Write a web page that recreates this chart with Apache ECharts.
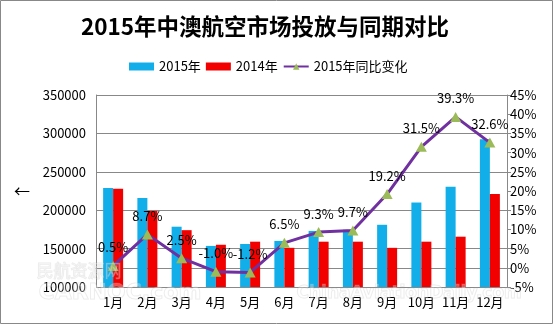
<!DOCTYPE html>
<html><head><meta charset="utf-8">
<script src="https://cdn.jsdelivr.net/npm/echarts@6/dist/echarts.min.js"></script>
<style>html,body{margin:0;padding:0;background:#fff}#c{width:553px;height:324px}</style>
</head><body><div id="c"></div>
<script>
const months = ['1月','2月','3月','4月','5月','6月','7月','8月','9月','10月','11月','12月'];
const y2015 = [229000,216000,178500,153500,156000,160000,173000,174500,181000,210000,230500,292500];
const y2014 = [228000,199000,174000,155000,159000,151000,159000,159000,151000,159000,165500,221000];
const yoy = [0.5,8.7,2.5,-1.0,-1.2,6.5,9.3,9.7,19.2,31.5,39.3,32.6];
const leftTicks = {min:100000,max:350000,interval:50000};
const rightTicks = {min:-5,max:45,interval:5};

const F = '"Noto Sans CJK SC","Noto Sans",sans-serif';
const chart = echarts.init(document.getElementById('c'), null, {renderer:'canvas'});
chart.setOption({
  animation:false,
  backgroundColor:'#fff',
  textStyle:{fontFamily:F},
  title:{text:'2015年中澳航空市场投放与同期对比',left:76,top:10,
    textStyle:{fontFamily:F,fontSize:22.5,fontWeight:'bold',color:'#000'}},
  legend:{top:55,left:124,itemWidth:25,itemHeight:8,itemGap:5,
    textStyle:{fontFamily:F,fontSize:13,color:'#000'},
    data:[{name:'2015年',icon:'rect'},{name:'2014年',icon:'rect'},{name:'2015年同比变化'}]},
  grid:{left:96,right:46,top:95,bottom:37},
  xAxis:{type:'category',data:months,
    axisLine:{show:true,lineStyle:{color:'#888',width:1}},
    axisTick:{show:false},
    axisLabel:{interval:0,fontFamily:F,fontSize:13,color:'#000',margin:9}},
  yAxis:[{type:'value',min:leftTicks.min,max:leftTicks.max,interval:leftTicks.interval,
      name:'←',nameLocation:'middle',nameRotate:0,nameGap:66,
      nameTextStyle:{fontFamily:F,fontSize:16,color:'#000'},
      axisLine:{show:true,lineStyle:{color:'#888'}},axisTick:{show:false},
      splitLine:{lineStyle:{color:'#888',width:1}},
      axisLabel:{fontFamily:F,fontSize:13,color:'#000',margin:10,formatter:v=>String(v)}},
    {type:'value',min:rightTicks.min,max:rightTicks.max,interval:rightTicks.interval,position:'right',
      axisLine:{show:true,lineStyle:{color:'#888'}},
      axisTick:{show:true,length:4,lineStyle:{color:'#888'}},
      splitLine:{show:false},
      axisLabel:{fontFamily:F,fontSize:13,color:'#000',margin:3,formatter:'{value}%'}}],
  series:[
    {name:'2015年',type:'bar',data:y2015,barWidth:10,barGap:'0%',itemStyle:{color:'#11AEEA'}},
    {name:'2014年',type:'bar',data:y2014,barWidth:10,barGap:'0%',itemStyle:{color:'#F20000'}},
    {name:'2015年同比变化',type:'line',yAxisIndex:1,data:yoy,
      symbol:'triangle',symbolSize:[11,10],
      lineStyle:{color:'#7030A0',width:3},
      itemStyle:{color:'#9BBB59',borderWidth:0},
      label:{show:true,position:'top',distance:7,fontFamily:F,fontSize:13,color:'#000',
        formatter:p=>p.value.toFixed(1)+'%'}}
  ],
  graphic:[
    {type:'rect',shape:{x:0.5,y:0.5,width:552,height:323},style:{fill:null,stroke:'#888',lineWidth:1},silent:true},
    {type:'text',left:36,top:262,z:100,style:{text:'民航资源网',fontFamily:F,fontSize:17,fill:'rgba(255,255,255,0.3)',stroke:'rgba(170,170,170,0.25)',lineWidth:1}},
    {type:'text',left:38,top:282,z:100,style:{text:'CARNOC.com',fontFamily:'"DejaVu Sans",sans-serif',fontWeight:'bold',fontSize:22,fill:'rgba(255,255,255,0.3)',stroke:'rgba(170,170,170,0.25)',lineWidth:1}},
    {type:'text',left:296,top:285,z:100,style:{text:'ChinaAviationDaily.com',fontFamily:'"DejaVu Sans",sans-serif',fontWeight:'bold',fontSize:17,fill:'rgba(255,255,255,0.3)',stroke:'rgba(170,170,170,0.25)',lineWidth:1}}
  ]
});
</script></body></html>
